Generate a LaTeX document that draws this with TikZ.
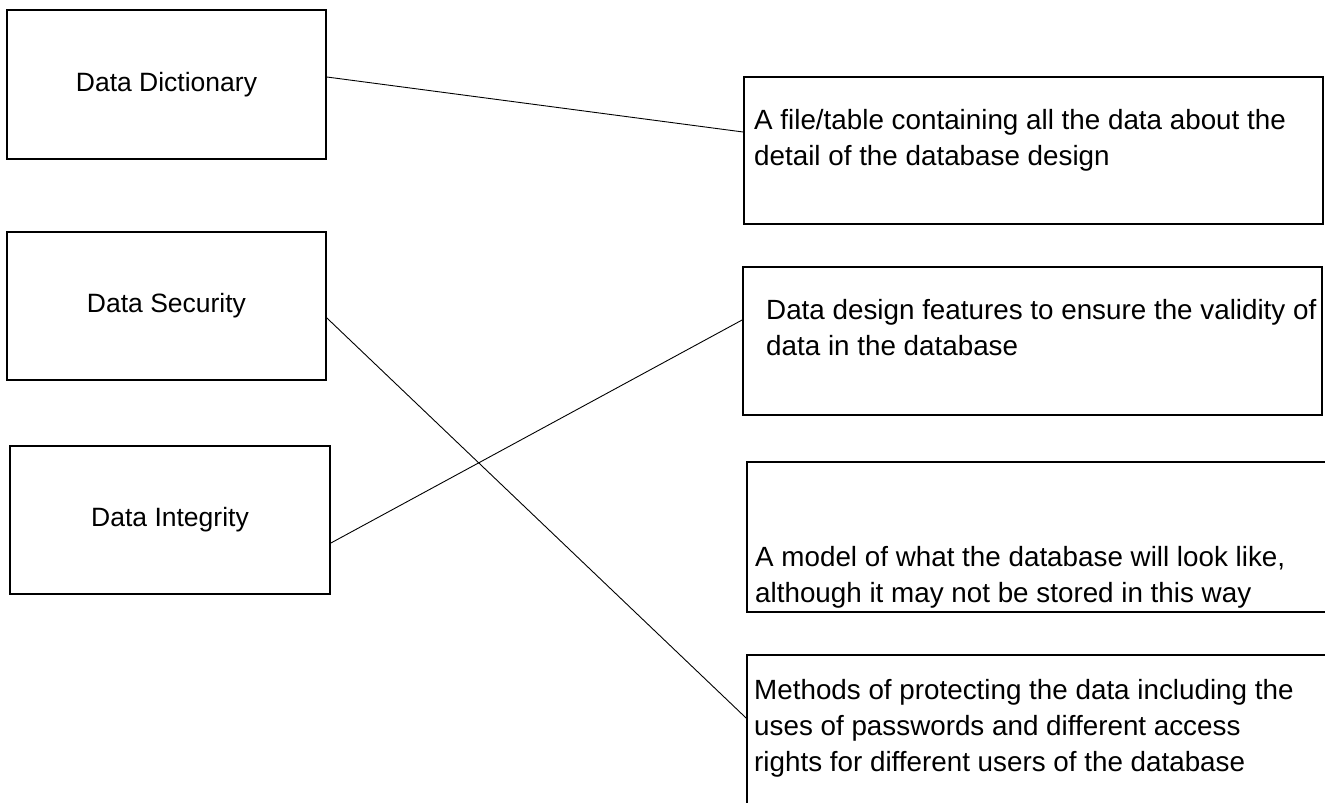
\documentclass[tikz,border=0pt]{standalone}
\usepackage{fontspec}
\setmainfont{Liberation Sans}
\begin{document}
\begin{tikzpicture}[x=1pt,y=-1pt,
  boxline/.style={draw=black,line width=1.8pt,fill=white,inner sep=0pt},
  termbox/.style={boxline,font=\fontsize{26.5}{36}\selectfont},
  desctext/.style={anchor=base west,inner sep=0pt,font=\fontsize{27.8}{36}\selectfont},
  link/.style={draw=black,line width=0.9pt}]
\useasboundingbox (0,0) rectangle (1325,803);
\clip (0,0) rectangle (1325,803);
\fill[white] (0,0) rectangle (1325,803);
% left boxes
\node[termbox,minimum width=319pt,minimum height=149pt] (dd) at (166.5,84.5) {Data Dictionary};
\node[termbox,minimum width=319pt,minimum height=148pt] (ds) at (166.5,306) {Data Security};
\node[termbox,minimum width=320pt,minimum height=148pt] (di) at (170,520) {Data Integrity};
% right boxes
\node[boxline,minimum width=579pt,minimum height=147pt] (r1) at (1033.5,150.5) {};
\node[boxline,minimum width=579pt,minimum height=148pt] (r2) at (1032.5,341) {};
\node[boxline,minimum width=593pt,minimum height=150pt] (r3) at (1043.5,537) {};
\node[boxline,minimum width=593pt,minimum height=175pt] (r4) at (1043.5,742.5) {};
% descriptions
\node[desctext] (t1) at (754,129) {\begin{tabular}[t]{@{}l@{}}A file/table containing all the data about the\\ detail of the database design\end{tabular}};
\node[desctext] (t2) at (766,319) {\begin{tabular}[t]{@{}l@{}}Data design features to ensure the validity of\\ data in the database\end{tabular}};
\node[desctext] (t3) at (755,566) {\begin{tabular}[t]{@{}l@{}}A model of what the database will look like,\\ although it may not be stored in this way\end{tabular}};
\node[desctext] (t4) at (754,699) {\begin{tabular}[t]{@{}l@{}}Methods of protecting the data including the\\ uses of passwords and different access\\ rights for different users of the database\end{tabular}};
% connectors
\draw[link] ([yshift=7.5pt]dd.east) -- ([yshift=18.5pt]r1.west);
\draw[link] ([yshift=-12pt]ds.east) -- ([yshift=24.5pt]r4.west);
\draw[link] ([yshift=-23pt]di.east) -- ([yshift=21pt]r2.west);
\end{tikzpicture}
\end{document}
